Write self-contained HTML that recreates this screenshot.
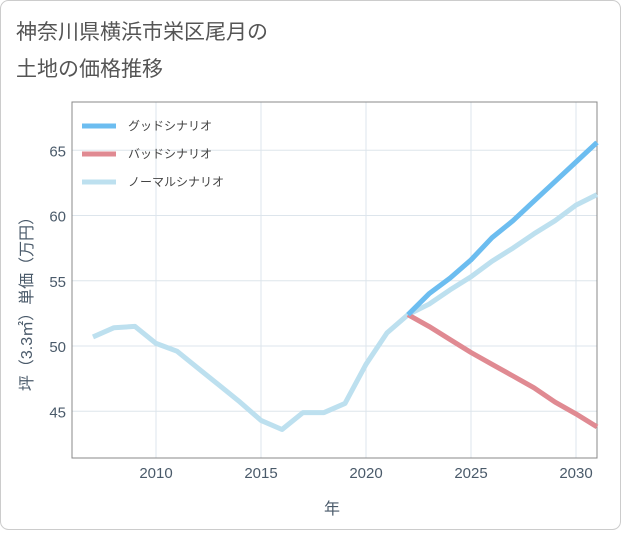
<!DOCTYPE html>
<html><head><meta charset="utf-8"><style>
body{margin:0;background:#fff;}
#wrap{position:relative;width:621px;height:530px;font-family:"Liberation Sans","Noto Sans CJK JP",sans-serif;}
</style></head><body>
<div id="wrap">
<svg id="chart" width="621" height="530" xmlns="http://www.w3.org/2000/svg">
<rect x="0.5" y="0.5" width="620" height="529" rx="8" fill="#fff" stroke="#ccc"/>
<text x="16" y="39" font-size="21" fill="#555">神奈川県横浜市栄区尾月の</text>
<text x="16" y="76" font-size="21" fill="#555">土地の価格推移</text>
<g id="grid"></g>
<rect x="72" y="102" width="525" height="356" fill="none" stroke="#888" stroke-width="1"/>
<g id="series"></g>
<g id="axes"></g>
<g id="legend"></g>
<text x="332" y="514" font-size="16" fill="#4a5a6a" text-anchor="middle">年</text>
<text transform="translate(32,300) rotate(-90)" font-size="16" fill="#4a5a6a" text-anchor="middle">坪（3.3㎡）単価（万円）</text>
</svg>
</div>
<script>
const years=[2007,2008,2009,2010,2011,2012,2013,2014,2015,2016,2017,2018,2019,2020,2021,2022,2023,2024,2025,2026,2027,2028,2029,2030,2031];
const normalValues=[50.7,51.4,51.5,50.2,49.6,48.3,47.0,45.7,44.3,43.6,44.9,44.9,45.6,48.6,51.0,52.4,53.2,54.3,55.3,56.5,57.5,58.6,59.6,60.8,61.6];
const futureYears=[2022,2023,2024,2025,2026,2027,2028,2029,2030,2031];
const goodValues=[52.4,54.0,55.2,56.6,58.3,59.6,61.1,62.6,64.1,65.6];
const badValues=[52.4,51.5,50.5,49.5,48.6,47.7,46.8,45.7,44.8,43.8];
const xTicks=[2010,2015,2020,2025,2030];
const yTicks=[45,50,55,60,65];
const seriesNames=["グッドシナリオ","バッドシナリオ","ノーマルシナリオ"];
const seriesColors=["#6cbdf0","#e08a92","#bde0ef"];

const NS="http://www.w3.org/2000/svg";
const X0=72,X1=597,Y0=102,Y1=458;
const xs=y=>156+(y-2010)*21;
const ys=v=>346-(v-50)*13.05;
function mk(tag,attrs,parent){const e=document.createElementNS(NS,tag);for(const k in attrs)e.setAttribute(k,attrs[k]);parent.appendChild(e);return e;}
const grid=document.getElementById('grid'),axes=document.getElementById('axes'),ser=document.getElementById('series'),leg=document.getElementById('legend');
xTicks.forEach(t=>{
 const l=mk('line',{x1:xs(t),x2:xs(t),y1:Y0,y2:Y1,stroke:'#dde5ec'},grid);
 
 
 const tx=mk('text',{x:xs(t),y:478,'font-size':15,fill:'#4a5a6a','text-anchor':'middle'},axes);
 tx.textContent=t;
 
 
});
yTicks.forEach(t=>{
 const l=mk('line',{x1:X0,x2:X1,y1:ys(t),y2:ys(t),stroke:'#dde5ec'},grid);
 
 
 const tx=mk('text',{x:66,y:ys(t)+6,'font-size':15,fill:'#4a5a6a','text-anchor':'end'},axes);
 tx.textContent=t;
 
 
});
function line(xv,yv,color,name){
 const d=xv.map((x,i)=>(i?'L':'M')+xs(x).toFixed(1)+','+ys(yv[i]).toFixed(1)).join(' ');
 const p=mk('path',{d:d,fill:'none',stroke:color,'stroke-width':5,'stroke-linejoin':'round'},ser);
 
 
}
line(years,normalValues,seriesColors[2],'normal-scenario-line');
line(futureYears,badValues,seriesColors[1],'bad-scenario-line');
line(futureYears,goodValues,seriesColors[0],'good-scenario-line');
seriesNames.forEach((n,i)=>{
 const y=126+i*28;
 const l=mk('line',{x1:82,x2:116,y1:y,y2:y,stroke:seriesColors[i],'stroke-width':5},leg);
 
 
 const t=mk('text',{x:128,y:y+4,'font-size':12,fill:'#444'},leg);
 t.textContent=n;
 
 
});
</script>
</body></html>
